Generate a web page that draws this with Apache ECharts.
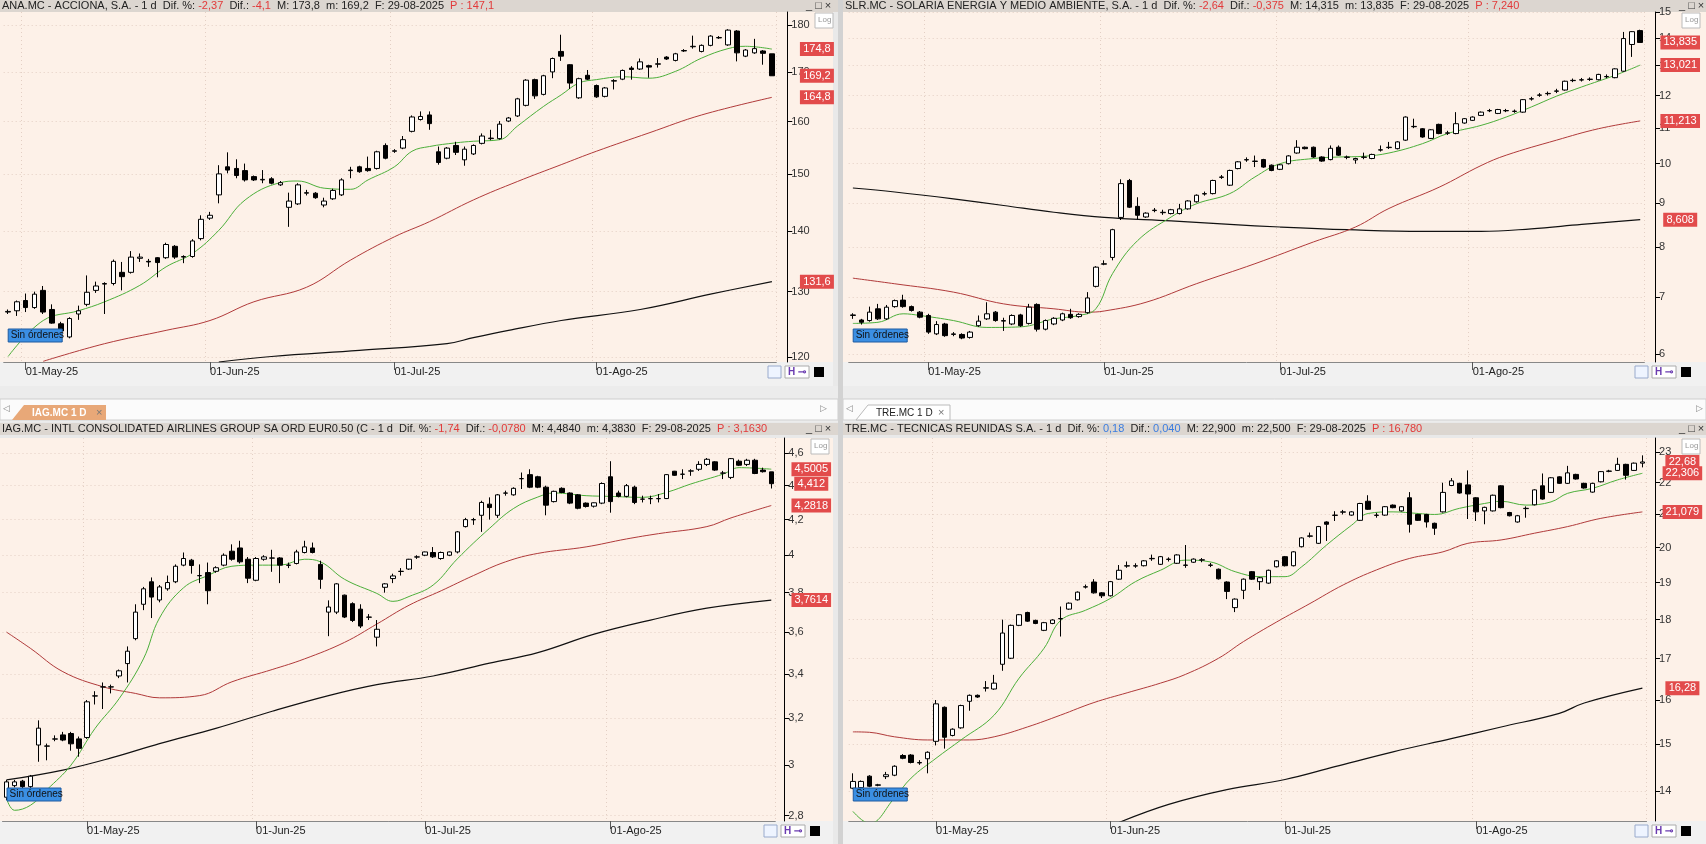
<!DOCTYPE html>
<html><head><meta charset="utf-8">
<script src="https://cdn.jsdelivr.net/npm/echarts@6/dist/echarts.min.js"></script>
<style>html,body{margin:0;padding:0;background:#ececec;}#c{width:1706px;height:844px;}</style>
</head><body><div id="c"></div>
<script>
// ---- trading dates (15-Apr-2025 .. 29-Aug-2025)
const dates = ['04-15','04-16','04-17','04-22','04-23','04-24','04-25','04-28','04-29','04-30',
'05-02','05-05','05-06','05-07','05-08','05-09','05-12','05-13','05-14','05-15','05-16','05-19','05-20','05-21','05-22','05-23','05-26','05-27','05-28','05-29','05-30',
'06-02','06-03','06-04','06-05','06-06','06-09','06-10','06-11','06-12','06-13','06-16','06-17','06-18','06-19','06-20','06-23','06-24','06-25','06-26','06-27','06-30',
'07-01','07-02','07-03','07-04','07-07','07-08','07-09','07-10','07-11','07-14','07-15','07-16','07-17','07-18','07-21','07-22','07-23','07-24','07-25','07-28','07-29','07-30','07-31',
'08-01','08-04','08-05','08-06','08-07','08-08','08-11','08-12','08-13','08-14','08-15','08-18','08-19','08-20','08-21','08-22','08-25','08-26','08-27','08-28','08-29'];
const monthNames = {'05':'May','06':'Jun','07':'Jul','08':'Ago'};

// ---- OHLC as [open, close, low, high]
const ANA = [[126.8,126.9,126.5,127.2],[127.0,128.4,126.2,128.6],[128.6,127.5,126.8,129.7],[127.5,129.6,127.3,130.0],[130.2,126.8,126.5,130.9],[127.2,125.1,125.0,128.0],[125.0,123.9,123.5,125.3],[123.0,125.8,122.8,126.0],[126.5,127.0,125.6,127.8],[128.0,129.9,127.7,132.6],
[130.2,130.9,129.8,131.6],[131.2,131.3,126.5,131.5],[131.3,134.9,131.0,135.2],[133.1,132.4,130.2,134.8],[133.1,135.6,132.9,136.6],[135.4,135.6,134.8,136.2],[134.9,134.8,134.0,135.3],[135.5,134.7,132.3,135.6],[135.5,137.7,135.3,138.0],[137.4,135.6,135.3,137.6],
[135.6,135.7,134.6,135.9],[135.7,138.3,135.5,138.6],[138.7,142.0,138.4,142.7],[142.2,142.7,141.9,143.3],[146.3,150.1,144.8,151.7],[151.4,150.8,150.2,154.1],[151.1,149.8,149.3,152.8],[150.7,149.0,148.7,152.0],[149.6,149.0,148.8,149.8],[149.0,149.1,148.4,150.8],
[149.2,148.4,148.2,149.5],[148.1,148.5,147.9,148.8],[144.1,145.2,140.7,146.7],[144.7,148.1,144.5,148.4],[146.6,146.7,146.2,147.2],[146.6,145.8,145.6,146.8],[144.5,145.2,144.1,145.8],[145.6,147.1,145.4,147.4],[146.3,149.0,146.1,149.3],[150.7,150.8,149.3,151.4],
[151.4,150.5,150.3,151.6],[151.1,150.7,150.5,153.3],[151.1,154.2,150.9,154.4],[155.4,153.0,152.8,155.8],[154.3,154.4,154.0,154.7],[154.9,156.5,154.7,157.2],[158.1,160.9,157.9,161.2],[160.4,161.0,160.2,162.0],[161.3,159.6,158.4,162.0],[154.2,152.2,151.8,155.2],
[153.0,154.9,152.8,155.1],[155.4,154.1,153.6,156.1],[152.7,154.7,151.6,155.2],[153.8,155.4,153.6,155.6],[155.8,157.2,155.6,157.7],[156.7,156.8,156.4,158.4],[156.7,159.5,156.5,160.1],[160.1,160.7,159.9,160.9],[161.1,164.5,160.9,164.7],[163.2,168.3,163.0,168.5],
[168.4,165.1,164.5,168.6],[165.4,169.2,165.2,169.4],[170.0,172.8,168.7,173.0],[174.3,173.3,172.3,177.9],[171.5,167.7,166.5,171.6],[164.7,168.6,164.5,168.8],[169.3,168.5,168.3,170.4],[167.2,164.9,164.7,167.4],[165.0,166.7,164.8,166.9],[168.1,168.2,166.4,168.5],
[168.5,170.3,168.3,170.5],[170.8,170.5,168.4,171.2],[170.6,172.1,170.4,172.8],[171.3,171.0,168.8,171.5],[171.6,171.7,170.9,172.9],[173.1,172.7,172.5,173.3],[172.4,173.8,172.2,174.0],[174.4,174.5,174.2,174.8],[175.3,175.4,174.9,177.7],[174.3,175.6,174.1,175.8],
[175.6,177.6,175.4,177.8],[177.2,177.3,177.0,177.6],[175.7,178.9,175.5,179.1],[178.7,174.0,172.2,178.9],[173.3,174.6,173.1,174.8],[174.0,174.9,173.8,177.0],[174.4,173.9,171.5,174.6],[173.8,169.2,169.2,173.8]];
const ANA_MA_S = [[0,120.1],[4,125.5],[8,127.0],[11,128.4],[15,131.0],[18,134.0],[21,136.2],[24,140.1],[27,145.4],[31,148.5],[33,148.8],[36,147.5],[39,147.3],[41,149.0],[44,151.4],[46,154.3],[48,155.2],[51,155.9],[53,156.2],[56,156.5],[58,159.1],[61,163.0],[63,165.3],[65,167.7],[67,168.4],[70,169.0],[73,168.7],[76,170.1],[79,172.9],[82,174.9],[84,175.4],[87,174.8]];
const ANA_MA_M = [[4,119.4],[11,122.0],[18,124.0],[23,125.5],[28,128.4],[34,130.7],[39,135.1],[44,139.0],[48,141.6],[53,145.4],[58,148.7],[63,151.8],[67,154.3],[73,157.8],[79,161.3],[87,164.8]];
const ANA_MA_L = [[24,119.3],[30,120.1],[40,121.0],[50,122.0],[53,122.9],[57,124.0],[63,125.5],[72,127.2],[80,129.6],[87,131.6]];

const SLR = [[6.66,6.67,6.60,6.70],[6.58,6.54,6.50,6.60],[6.57,6.72,6.55,6.82],[6.78,6.60,6.58,6.87],[6.60,6.81,6.58,6.85],[6.82,6.93,6.80,6.95],[6.94,6.82,6.80,7.04],[6.82,6.75,6.73,6.84],[6.72,6.63,6.61,6.74],[6.66,6.37,6.34,6.69],
[6.34,6.50,6.32,6.56],[6.51,6.31,6.29,6.53],[6.33,6.34,6.30,6.37],[6.33,6.27,6.25,6.35],[6.28,6.37,6.26,6.39],[6.48,6.56,6.46,6.66],[6.60,6.69,6.58,6.90],[6.72,6.57,6.55,6.74],[6.56,6.57,6.39,6.62],[6.51,6.66,6.49,6.68],
[6.67,6.48,6.46,6.69],[6.52,6.81,6.50,6.87],[6.86,6.42,6.38,6.88],[6.42,6.57,6.40,6.59],[6.51,6.61,6.49,6.63],[6.58,6.69,6.56,6.71],[6.68,6.62,6.60,6.78],[6.64,6.68,6.62,6.70],[6.71,6.98,6.69,7.09],[7.20,7.58,7.18,7.60],
[7.64,7.65,7.62,7.72],[7.78,8.38,7.72,8.40],[8.66,9.48,8.60,9.59],[9.56,8.90,8.88,9.60],[8.92,8.71,8.62,9.14],[8.67,8.76,8.65,8.78],[8.82,8.83,8.78,8.88],[8.77,8.78,8.72,8.84],[8.75,8.84,8.73,8.86],[8.75,8.86,8.73,8.98],
[8.86,9.05,8.84,9.07],[9.03,9.19,9.01,9.21],[9.22,9.23,9.18,9.28],[9.23,9.56,9.21,9.58],[9.64,9.65,9.60,9.70],[9.44,9.82,9.42,9.84],[9.87,10.05,9.85,10.07],[10.10,10.11,10.05,10.17],[10.06,10.07,9.91,10.22],[10.11,9.91,9.89,10.13],
[9.96,9.82,9.80,9.98],[9.85,9.97,9.83,9.99],[10.00,10.21,9.98,10.23],[10.29,10.45,10.27,10.65],[10.45,10.41,10.39,10.47],[10.45,10.18,10.16,10.47],[10.18,10.07,10.05,10.20],[10.11,10.42,10.09,10.50],[10.45,10.23,10.21,10.50],[10.17,10.18,10.12,10.22],
[10.10,10.14,10.00,10.16],[10.17,10.18,10.12,10.30],[10.14,10.25,10.12,10.27],[10.37,10.38,10.33,10.50],[10.44,10.45,10.40,10.60],[10.41,10.60,10.39,10.62],[10.65,11.33,10.63,11.35],[11.04,11.05,11.00,11.28],[10.98,10.74,10.72,11.00],[10.70,10.95,10.68,10.97],
[11.11,10.84,10.82,11.13],[10.85,10.86,10.80,10.92],[10.84,11.13,10.82,11.48],[11.15,11.28,11.13,11.30],[11.23,11.33,11.21,11.35],[11.38,11.48,11.36,11.50],[11.52,11.53,11.48,11.58],[11.44,11.56,11.42,11.58],[11.52,11.53,11.48,11.58],[11.50,11.51,11.46,11.56],
[11.48,11.87,11.46,11.89],[11.89,11.90,11.84,11.96],[12.01,12.02,11.96,12.08],[12.06,12.07,12.00,12.13],[12.14,12.15,12.08,12.22],[12.18,12.47,12.16,12.49],[12.49,12.50,12.44,12.56],[12.51,12.52,12.46,12.58],[12.53,12.54,12.48,12.60],[12.52,12.70,12.50,12.72],
[12.62,12.63,12.57,12.70],[12.59,12.89,12.57,12.91],[12.81,13.98,12.79,14.23],[13.76,14.24,13.31,14.26],[14.28,13.835,13.835,14.315]];
const SLR_MA_S = [[0,6.52],[3,6.54],[6,6.69],[8,6.66],[12,6.57],[16,6.45],[20,6.46],[24,6.60],[27,6.66],[29,6.78],[31,7.45],[34,8.14],[38,8.67],[41,8.98],[45,9.23],[48,9.65],[51,10.0],[55,10.14],[58,10.18],[61,10.20],[64,10.29],[68,10.55],[71,10.84],[75,11.08],[78,11.33],[81,11.64],[84,11.98],[87,12.28],[91,12.67],[94,13.021]];
const SLR_MA_M = [[0,7.36],[5,7.25],[12,7.09],[18,6.87],[24,6.78],[28,6.72],[30,6.74],[35,6.90],[41,7.25],[48,7.65],[55,8.11],[60,8.44],[64,8.87],[70,9.39],[75,9.95],[78,10.23],[84,10.65],[89,10.98],[94,11.213]];
const SLR_MA_L = [[0,9.37],[5,9.27],[12,9.10],[18,8.94],[24,8.78],[30,8.66],[38,8.58],[45,8.50],[51,8.44],[59,8.38],[68,8.34],[75,8.34],[81,8.40],[87,8.50],[94,8.608]];

const IAG = [[2.871,2.932,2.86,2.94],[2.917,2.932,2.91,2.94],[2.935,2.913,2.905,2.94],[2.913,2.955,2.905,2.96],[3.084,3.156,3.014,3.19],[3.079,3.08,3.02,3.09],[3.109,3.11,3.10,3.125],[3.127,3.105,3.10,3.14],[3.133,3.089,3.06,3.14],[3.11,3.07,3.035,3.12],
[3.116,3.272,3.11,3.28],[3.298,3.299,3.26,3.32],[3.339,3.34,3.24,3.36],[3.339,3.34,3.31,3.35],[3.39,3.414,3.38,3.42],[3.448,3.507,3.36,3.53],[3.568,3.70,3.56,3.74],[3.74,3.82,3.71,3.83],[3.857,3.777,3.67,3.88],[3.762,3.83,3.75,3.84],
[3.82,3.853,3.81,3.89],[3.857,3.94,3.85,3.95],[3.946,3.982,3.94,4.015],[3.973,3.944,3.90,3.98],[3.889,3.89,3.85,3.95],[3.906,3.81,3.74,3.96],[3.913,3.932,3.905,3.94],[3.946,4.0,3.94,4.01],[4.022,3.978,3.97,4.06],[4.04,3.964,3.955,4.08],
[3.978,3.876,3.85,3.99],[3.865,3.982,3.86,3.99],[3.978,3.991,3.97,4.0],[3.984,3.985,3.91,4.03],[3.985,3.946,3.85,3.99],[3.945,3.946,3.93,3.96],[3.955,4.018,3.95,4.03],[4.015,4.046,4.01,4.08],[4.04,4.015,4.01,4.07],[3.95,3.87,3.82,3.97],
[3.70,3.726,3.58,3.76],[3.70,3.846,3.69,3.85],[3.787,3.675,3.67,3.79],[3.743,3.658,3.65,3.75],[3.715,3.63,3.62,3.74],[3.674,3.675,3.66,3.69],[3.575,3.614,3.53,3.66],[3.828,3.846,3.80,3.85],[3.874,3.888,3.85,3.90],[3.912,3.913,3.89,3.93],
[3.925,3.978,3.92,3.98],[3.99,3.991,3.98,4.0],[4.0,4.018,3.995,4.02],[4.015,3.991,3.985,4.045],[3.982,4.015,3.975,4.02],[4.0,4.018,3.995,4.02],[4.018,4.13,4.01,4.135],[4.16,4.20,4.155,4.21],[4.199,4.20,4.17,4.21],[4.225,4.30,4.13,4.31],
[4.29,4.27,4.20,4.33],[4.225,4.345,4.21,4.35],[4.355,4.356,4.34,4.37],[4.345,4.384,4.34,4.39],[4.442,4.443,4.38,4.48],[4.467,4.391,4.385,4.50],[4.454,4.391,4.385,4.46],[4.391,4.284,4.225,4.40],[4.305,4.366,4.30,4.37],[4.384,4.359,4.355,4.39],
[4.356,4.296,4.29,4.36],[4.345,4.266,4.26,4.35],[4.296,4.276,4.27,4.30],[4.278,4.298,4.27,4.30],[4.296,4.413,4.29,4.42],[4.454,4.305,4.24,4.55],[4.356,4.336,4.33,4.37],[4.336,4.40,4.33,4.41],[4.391,4.30,4.29,4.40],[4.319,4.32,4.30,4.34],
[4.322,4.323,4.29,4.34],[4.322,4.323,4.30,4.35],[4.323,4.467,4.32,4.47],[4.488,4.463,4.46,4.49],[4.469,4.47,4.44,4.50],[4.489,4.49,4.46,4.50],[4.50,4.53,4.49,4.55],[4.53,4.562,4.52,4.57],[4.546,4.495,4.49,4.55],[4.476,4.477,4.44,4.49],
[4.45,4.566,4.44,4.57],[4.55,4.525,4.52,4.56],[4.53,4.556,4.52,4.565],[4.556,4.474,4.47,4.565],[4.495,4.485,4.48,4.51],[4.484,4.412,4.383,4.484]];
const IAG_MA_S = [[0,2.866],[1,2.82],[3,2.84],[5,2.90],[8,3.00],[11,3.155],[14,3.287],[17,3.47],[19,3.67],[22,3.826],[25,3.89],[28,3.94],[31,3.946],[34,3.946],[37,3.978],[39,3.964],[42,3.87],[46,3.796],[48,3.755],[50,3.78],[53,3.84],[56,3.98],[60,4.15],[63,4.265],[66,4.332],[68,4.356],[72,4.34],[75,4.336],[79,4.33],[82,4.36],[85,4.41],[89,4.47],[91,4.51],[95,4.5005]];
const IAG_MA_M = [[0,3.60],[3,3.52],[7,3.41],[12,3.34],[16,3.31],[19,3.29],[24,3.30],[28,3.363],[33,3.42],[37,3.47],[42,3.55],[46,3.64],[50,3.735],[54,3.81],[58,3.89],[62,3.964],[66,4.01],[72,4.046],[77,4.09],[81,4.12],[87,4.16],[90,4.21],[95,4.2818]];
const IAG_MA_L = [[0,2.94],[7,2.98],[13,3.03],[19,3.09],[26,3.155],[33,3.23],[40,3.30],[46,3.35],[53,3.39],[60,3.45],[66,3.50],[73,3.59],[80,3.66],[87,3.72],[95,3.7614]];

const TRE = [[14.06,14.20,14.04,14.37],[14.07,14.20,14.05,14.22],[14.31,14.10,14.08,14.33],[14.12,14.13,14.10,14.15],[14.30,14.34,14.25,14.40],[14.33,14.52,14.31,14.54],[14.75,14.69,14.67,14.78],[14.76,14.60,14.58,14.78],[14.59,14.60,14.55,14.65],[14.68,14.82,14.37,14.84],
[15.06,15.91,14.97,16.0],[15.83,15.15,14.90,15.85],[15.19,15.33,15.17,15.35],[15.36,15.87,15.34,15.89],[15.97,16.11,15.75,16.13],[16.11,16.07,16.05,16.13],[16.28,16.29,16.20,16.45],[16.26,16.40,16.24,16.60],[16.86,17.65,16.70,18.0],[17.01,17.85,16.99,17.87],
[17.85,18.13,17.83,18.15],[18.19,17.96,17.94,18.21],[17.98,17.90,17.88,18.00],[17.72,17.92,17.70,17.94],[17.90,17.99,17.88,18.01],[18.02,18.03,17.56,18.35],[18.28,18.44,18.26,18.46],[18.53,18.74,18.51,18.76],[18.88,18.89,18.84,18.95],[19.02,18.72,18.70,19.10],
[18.72,18.64,18.58,18.74],[18.64,19.03,18.62,19.05],[19.10,19.35,19.08,19.50],[19.47,19.48,19.42,19.60],[19.47,19.48,19.42,19.55],[19.48,19.62,19.46,19.64],[19.68,19.69,19.62,19.80],[19.52,19.74,19.50,19.76],[19.66,19.67,19.60,19.72],[19.55,19.79,19.53,19.81],
[19.49,19.50,19.42,20.08],[19.58,19.67,19.56,19.69],[19.64,19.65,19.58,19.70],[19.49,19.50,19.44,19.56],[19.38,19.11,19.09,19.40],[19.02,18.76,18.55,19.04],[18.32,18.55,18.20,18.57],[18.79,19.10,18.55,19.12],[19.31,19.10,19.08,19.33],[19.03,19.14,18.80,19.16],
[18.99,19.35,18.97,19.37],[19.45,19.62,19.43,19.64],[19.74,19.48,19.46,19.76],[19.48,19.88,19.46,19.90],[20.03,20.29,20.01,20.31],[20.34,20.35,20.30,20.45],[20.13,20.63,20.11,20.65],[20.77,20.70,20.20,20.79],[20.97,20.98,20.80,21.10],[21.07,21.08,21.00,21.14],
[20.98,21.08,20.96,21.10],[20.82,21.34,20.80,21.36],[21.41,21.16,21.14,21.60],[20.97,20.98,20.90,21.05],[20.98,21.24,20.96,21.26],[21.29,21.21,21.19,21.31],[21.11,21.24,21.09,21.26],[21.52,20.70,20.45,21.70],[21.00,20.82,20.80,21.02],[21.00,20.77,20.60,21.02],
[20.73,20.58,20.38,20.75],[21.08,21.69,21.06,22.00],[21.91,22.06,21.89,22.15],[21.98,21.67,21.65,22.00],[21.93,21.64,20.86,22.40],[21.52,21.08,20.80,21.54],[21.11,21.22,20.70,21.24],[21.11,21.60,21.09,21.62],[21.90,21.21,21.19,21.92],[21.06,20.96,20.94,21.08],
[20.77,20.96,20.75,20.98],[21.18,21.19,20.90,21.25],[21.30,21.77,21.28,21.79],[21.90,21.48,21.46,22.30],[21.69,22.16,21.67,22.18],[22.19,21.98,21.96,22.21],[21.98,22.32,21.96,22.55],[22.27,22.12,22.10,22.29],[21.98,21.83,21.81,22.00],[21.70,21.98,21.68,22.00],
[22.03,22.36,22.01,22.38],[22.37,22.38,22.34,22.42],[22.40,22.60,22.38,22.82],[22.60,22.24,22.10,22.62],[22.40,22.64,22.38,22.66],[22.64,22.68,22.50,22.90]];
const TRE_MA_S = [[0,13.59],[2,13.35],[5,13.86],[7,14.27],[10,14.69],[13,15.09],[17,15.65],[20,16.52],[23,17.26],[25,17.98],[28,18.25],[31,18.57],[34,19.03],[37,19.35],[40,19.64],[43,19.59],[46,19.31],[49,19.17],[52,19.17],[54,19.45],[57,20.08],[60,20.67],[62,21.03],[65,21.08],[68,21.03],[70,21.00],[73,21.19],[76,21.34],[78,21.41],[81,21.29],[84,21.39],[86,21.66],[89,21.82],[92,22.09],[95,22.306]];
const TRE_MA_M = [[0,15.27],[2,15.26],[5,15.16],[9,15.09],[14,15.09],[17,15.16],[21,15.38],[25,15.65],[29,15.94],[33,16.17],[37,16.40],[40,16.61],[44,17.01],[47,17.43],[51,17.94],[55,18.43],[59,18.94],[63,19.36],[67,19.69],[71,19.88],[74,20.13],[78,20.23],[82,20.43],[86,20.63],[90,20.88],[95,21.079]];
const TRE_MA_L = [[32,13.37],[38,13.73],[45,14.03],[52,14.24],[58,14.51],[65,14.83],[72,15.12],[78,15.38],[85,15.69],[88,15.93],[95,16.28]];

const ANA_TICKS = [120,130,140,150,160,170,180];
const SLR_TICKS = [6,7,8,9,10,11,12,13,14,15];
const IAG_TICKS = [2.8,3,3.2,3.4,3.6,3.8,4,4.2,4.4,4.6];
const TRE_TICKS = [14,15,16,17,18,19,20,21,22,23];

const HEAD = [
 [['ANA.MC - ACCIONA, S.A. - 1 d  Dif. %: ','k'],['-2,37','r'],['  Dif.: ','k'],['-4,1','r'],['  M: 173,8  m: 169,2  F: 29-08-2025  ','k'],['P : 147,1','r']],
 [['SLR.MC - SOLARIA ENERGIA Y MEDIO AMBIENTE, S.A. - 1 d  Dif. %: ','k'],['-2,64','r'],['  Dif.: ','k'],['-0,375','r'],['  M: 14,315  m: 13,835  F: 29-08-2025  ','k'],['P : 7,240','r']],
 [['IAG.MC - INTL CONSOLIDATED AIRLINES GROUP SA ORD EUR0.50 (C - 1 d  Dif. %: ','k'],['-1,74','r'],['  Dif.: ','k'],['-0,0780','r'],['  M: 4,4840  m: 4,3830  F: 29-08-2025  ','k'],['P : 3,1630','r']],
 [['TRE.MC - TECNICAS REUNIDAS S.A. - 1 d  Dif. %: ','k'],['0,18','b'],['  Dif.: ','k'],['0,040','b'],['  M: 22,900  m: 22,500  F: 29-08-2025  ','k'],['P : 16,780','r']]
];
const LABELS = [
 {s:'174,8',c:'169,2',m:'164,8',l:'131,6'},
 {s:'13,021',c:'13,835',m:'11,213',l:'8,608'},
 {s:'4,5005',c:'4,412',m:'4,2818',l:'3,7614'},
 {s:'22,306',c:'22,68',m:'21,079',l:'16,28'}
];

// ---- layout (pixels)
const P = [
 {d:ANA,s:ANA_MA_S,m:ANA_MA_M,l:ANA_MA_L,t:ANA_TICKS,start:8,left:3.7,w:772.6,top:12,h:350,off:11,min:119.3,max:182.9,ax:788,dx:45,px:0,pw:838,hy:0},
 {d:SLR,s:SLR_MA_S,m:SLR_MA_M,l:SLR_MA_L,t:SLR_TICKS,start:1,left:848.7,w:795.7,top:12,h:350,off:10.6,min:5.88,max:15.01,ax:1655,dx:40,px:843,pw:863,hy:0},
 {d:IAG,s:IAG_MA_S,m:IAG_MA_M,l:IAG_MA_L,t:IAG_TICKS,start:0,left:2.5,w:772.8,top:438,h:383,off:9,min:2.779,max:4.697,ax:784,dx:40,px:0,pw:838,hy:423},
 {d:TRE,s:TRE_MA_S,m:TRE_MA_M,l:TRE_MA_L,t:TRE_TICKS,start:0,left:848.75,w:797.8,top:438,h:383,off:8.5,min:13.40,max:23.49,ax:1655,dx:40,px:843,pw:863,hy:423}
];
const FONT = '"Liberation Sans Narrow","Liberation Sans",Arial,sans-serif';
const fmt = v => String(+v.toFixed(2)).replace('.',',');

const grid=[],xAxis=[],yAxis=[],series=[],graphic=[];
graphic.push({type:'rect',shape:{x:0,y:0,width:1706,height:844},style:{fill:'#e9e9e9'},z:-10,silent:true});
P.forEach((p,k)=>{
  const ph = p.h;
  graphic.push({type:'rect',shape:{x:p.px,y:p.hy,width:p.pw,height:12},style:{fill:'#dcd6d0'},z:-9});
  graphic.push({type:'rect',shape:{x:p.px,y:p.top,width:p.pw-(k%2?0:5),height:ph},style:{fill:'#fdf1e8'},z:-9});
  graphic.push({type:'rect',shape:{x:p.px,y:p.top+ph,width:p.pw-(k%2?0:5),height:k<2?24:23},style:{fill:'#f1f1f1'},z:-9});
  const rich={k:{fill:'#222'},r:{fill:'#e23a3a'},b:{fill:'#3b7de0'}};
  graphic.push({type:'text',x:p.px+2,y:p.hy+6,style:{text:HEAD[k].map(([t,c])=>'{'+c+'|'+t+'}').join(''),rich,font:'11px '+FONT,verticalAlign:'middle'},z:5});
  graphic.push({type:'text',x:p.px+p.pw-(k%2?27:32),y:p.hy+6,style:{text:'_ □ ×',font:'11px '+FONT,fill:'#333',verticalAlign:'middle'},z:5});
  graphic.push({type:'rect',shape:{x:p.ax+27,y:p.top+1,width:18,height:15},style:{fill:'#fff',stroke:'#bbb'},z:5});
  graphic.push({type:'text',x:p.ax+30,y:p.top+8,style:{text:'Log',font:'8px '+FONT,fill:'#999',verticalAlign:'middle'},z:6});
  graphic.push({type:'rect',shape:{x:p.left+4.5,y:p.top+ph-33,width:54,height:13},style:{fill:'#3b8fe3',stroke:'#1e5aa0'},z:5});
  graphic.push({type:'text',x:p.left+7,y:p.top+ph-26.5,style:{text:'Sin órdenes',font:'10px '+FONT,fill:'#111',verticalAlign:'middle'},z:6});
  const iy=p.top+ph+4;
  graphic.push({type:'rect',shape:{x:p.ax-20,y:iy,width:13,height:12},style:{fill:'#eef4ff',stroke:'#99aacc'},z:5});
  graphic.push({type:'rect',shape:{x:p.ax-3,y:iy,width:24,height:12},style:{fill:'#fff',stroke:'#aaa'},z:5});
  graphic.push({type:'text',x:p.ax,y:iy+6,style:{text:'H ⊸',font:'bold 10px '+FONT,fill:'#6a3bb0',verticalAlign:'middle'},z:6});
  graphic.push({type:'rect',shape:{x:p.ax+26,y:iy+1,width:10,height:10},style:{fill:'#000'},z:5});

  const n = p.d.length;
  const cats = dates.slice(p.start);
  const monthStart = new Set();
  cats.forEach((d,i)=>{ if(i>0 && d.slice(0,2)!==cats[i-1].slice(0,2)) monthStart.add(i); });
  grid.push({left:p.left,top:p.top,width:p.w,height:ph,show:false});
  xAxis.push({type:'category',gridIndex:k,data:cats,boundaryGap:true,
    axisLine:{show:true,lineStyle:{color:'#888'}},
    axisTick:{show:true,alignWithLabel:true,interval:i=>monthStart.has(i),length:8,lineStyle:{color:'#555'}},
    axisLabel:{interval:i=>monthStart.has(i),formatter:v=>'01-'+monthNames[v.slice(0,2)]+'-25',align:'left',margin:4,color:'#222',fontSize:11,fontFamily:FONT},
    splitLine:{show:true,interval:i=>monthStart.has(i),lineStyle:{color:'#e3cfc4',type:[1,3]}}});
  yAxis.push({type:'log',logBase:10,gridIndex:k,position:'right',offset:p.off,min:p.min,max:p.max,
    axisLine:{show:true,lineStyle:{color:'#000'}},
    axisTick:{show:true,customValues:p.t,length:5,lineStyle:{color:'#000'}},
    minorTick:{show:false},
    axisLabel:{customValues:p.t,formatter:v=>fmt(v),color:'#333',fontSize:11,fontFamily:FONT,margin:4},
    splitLine:{show:true,lineStyle:{color:'#e3cfc4',type:[1,3]}}});
  const last = n-1;
  const mp = (val,txt)=>({symbol:'rect',symbolSize:[txt.length*5.6+6,14],symbolOffset:[p.dx,0],silent:true,
     itemStyle:{color:'#e24b4b'},label:{show:true,formatter:txt,color:'#fff',fontSize:11,fontFamily:FONT},
     data:[{coord:[last,val]}]});
  const line=(data,color,w,txt)=>({type:'line',xAxisIndex:k,yAxisIndex:k,data:data,smooth:0.4,symbol:'none',clip:true,
     lineStyle:{color,width:w},z:3,markPoint:mp(data[data.length-1][1],txt)});
  series.push(line(p.l,'#111',1.2,LABELS[k].l));
  series.push(line(p.m,'#b03a3a',1,LABELS[k].m));
  series.push(line(p.s,'#4caf3a',1,LABELS[k].s));
  series.push({type:'candlestick',xAxisIndex:k,yAxisIndex:k,data:p.d,barWidth:5,clip:true,z:4,
     itemStyle:{color:'#ffffff',color0:'#000000',borderColor:'#000',borderColor0:'#000',borderWidth:1},
     markPoint:mp(p.d[last][1],LABELS[k].c)});
});
graphic.push({type:'rect',shape:{x:838,y:0,width:5,height:844},style:{fill:'#d2d2d2'},z:1});
graphic.push({type:'rect',shape:{x:0,y:386,width:1706,height:36},style:{fill:'#ececec'},z:-8});
graphic.push({type:'rect',shape:{x:0,y:399,width:838,height:21},style:{fill:'#fbfbfb',stroke:'#cfcfcf'},z:-7});
graphic.push({type:'rect',shape:{x:843,y:399,width:863,height:21},style:{fill:'#fbfbfb',stroke:'#cfcfcf'},z:-7});
graphic.push({type:'polygon',shape:{points:[[12,420],[24,405],[106,405],[106,420]]},style:{fill:'#e8a878'},z:2});
graphic.push({type:'text',x:32,y:413,style:{text:'IAG.MC 1 D',font:'bold 10px '+FONT,fill:'#fff',verticalAlign:'middle'},z:3});
graphic.push({type:'text',x:96,y:413,style:{text:'×',font:'11px '+FONT,fill:'#777',verticalAlign:'middle'},z:3});
graphic.push({type:'polygon',shape:{points:[[856,420],[868,405],[950,405],[950,420]]},style:{fill:'#fff',stroke:'#bbb'},z:2});
graphic.push({type:'text',x:876,y:413,style:{text:'TRE.MC 1 D',font:'10px '+FONT,fill:'#222',verticalAlign:'middle'},z:3});
graphic.push({type:'text',x:938,y:413,style:{text:'×',font:'11px '+FONT,fill:'#777',verticalAlign:'middle'},z:3});
graphic.push({type:'text',x:3,y:409,style:{text:'◁',font:'9px '+FONT,fill:'#888',verticalAlign:'middle'},z:3});
graphic.push({type:'text',x:820,y:409,style:{text:'▷',font:'9px '+FONT,fill:'#888',verticalAlign:'middle'},z:3});
graphic.push({type:'text',x:846,y:409,style:{text:'◁',font:'9px '+FONT,fill:'#888',verticalAlign:'middle'},z:3});
graphic.push({type:'text',x:1696,y:409,style:{text:'▷',font:'9px '+FONT,fill:'#888',verticalAlign:'middle'},z:3});

const chart = echarts.init(document.getElementById('c'),null,{renderer:'canvas'});
chart.setOption({animation:false,backgroundColor:'#e9e9e9',grid,xAxis,yAxis,series,graphic});
</script></body></html>
